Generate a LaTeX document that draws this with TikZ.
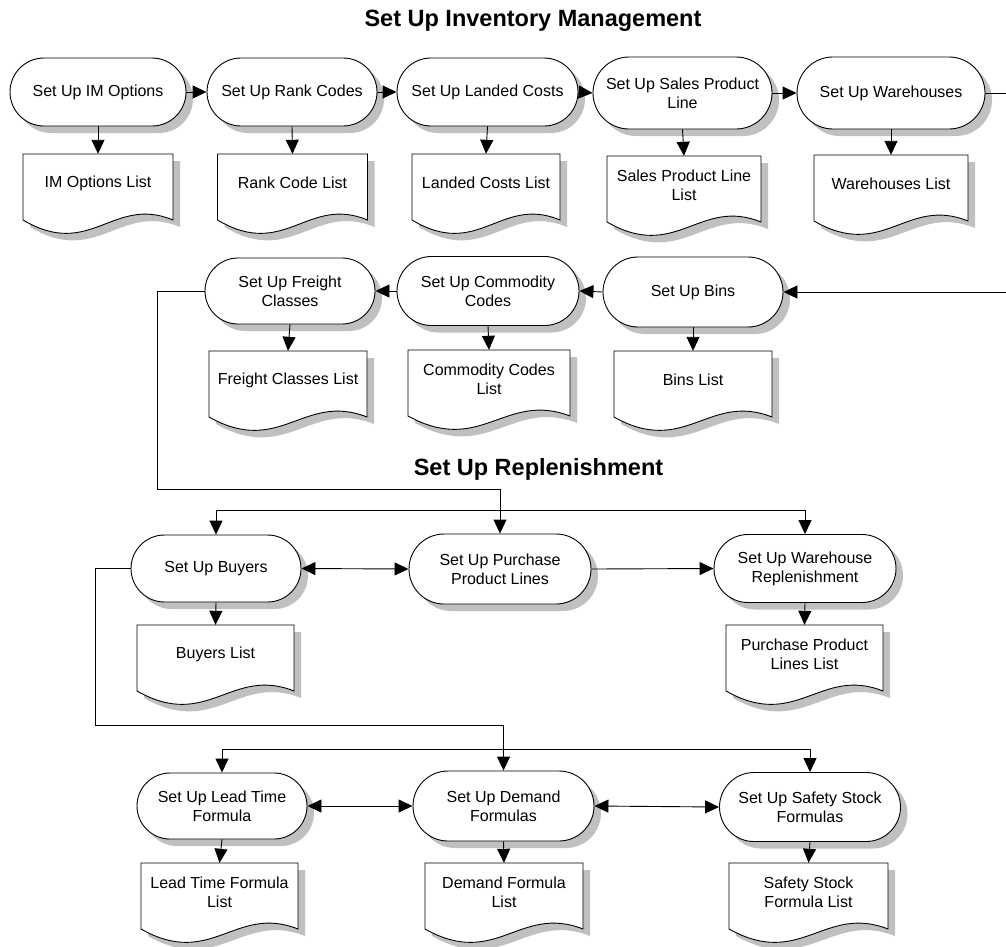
\documentclass[tikz,border=0pt]{standalone}
\usepackage{fontspec}
\setmainfont{Liberation Sans}
\usetikzlibrary{shapes.misc,shadows,arrows.meta}
\definecolor{shadowgray}{RGB}{192,192,192}
\newcommand\lblfont{\fontsize{16}{19}\selectfont}
\newcommand\ttlfont{\bfseries\fontsize{23.5}{28}\selectfont}
% doc shape: name, center x, top y, width, text
\newcommand\docbox[5]{%
  \begin{scope}[shift={({#2-#4/2},#3)}]
    \fill[shadowgray,shift={(7,7)}] (0,0) -- (#4,0) -- (#4,66) .. controls ({0.6*#4},41) and ({0.45*#4},106) .. (0,66) -- cycle;
    \draw[line width=0.9pt,fill=white] (0,0) -- (#4,0) -- (#4,66) .. controls ({0.6*#4},41) and ({0.45*#4},106) .. (0,66) -- cycle;
  \end{scope}
  \node[doctext,minimum width=#4pt] (#1) at (#2,{#3+29}) {#5};
}
\begin{document}
\begin{tikzpicture}[x=1pt,y=-1pt,
  term/.style={rounded rectangle,draw,line width=0.9pt,fill=white,minimum height=68pt,
    inner sep=0pt,align=center,font=\lblfont,
    drop shadow={shadow xshift=7pt,shadow yshift=-7pt,fill=shadowgray,opacity=1}},
  doctext/.style={inner sep=0pt,minimum height=58pt,align=center,font=\lblfont},
  conn/.style={line width=0.9pt,-{Triangle[length=14pt,width=13pt]}},
  conntwo/.style={line width=0.9pt,{Triangle[length=14pt,width=13pt]}-{Triangle[length=14pt,width=13pt]}}]
\useasboundingbox (0,0) rectangle (1006,946);
\clip (0,0) rectangle (1006,946);

% titles
\node[font=\ttlfont,anchor=base] (title1) at (533,26.5) {Set Up Inventory Management};
\node[font=\ttlfont,anchor=base] (title2) at (538.5,475) {Set Up Replenishment};

% row 1
\node[term,minimum width=176pt] (t1) at (98,92) {Set Up IM Options};
\node[term,minimum width=170pt] (t2) at (292,92) {Set Up Rank Codes};
\node[term,minimum width=181pt] (t3) at (487.5,92) {Set Up Landed Costs};
\node[term,minimum width=179pt,minimum height=72pt] (t4) at (682.5,93) {Set Up Sales Product\\Line};
\node[term,minimum width=188pt,minimum height=72pt] (t5) at (891,93) {Set Up Warehouses};

% row 2
\node[term,minimum width=170pt,minimum height=66pt] (t6) at (290,291) {Set Up Freight\\Classes};
\node[term,minimum width=182pt,minimum height=69pt] (t7) at (488,291) {Set Up Commodity\\Codes};
\node[term,minimum width=180pt,minimum height=70pt] (t8) at (693,292) {Set Up Bins};

% row 3
\node[term,minimum width=170pt,minimum height=67pt] (t9) at (216,568.5) {Set Up Buyers};
\node[term,minimum width=182pt,minimum height=70pt] (t10) at (500,569) {Set Up Purchase\\Product Lines};
\node[term,minimum width=182pt,minimum height=68pt] (t11) at (805,568.5) {Set Up Warehouse\\Replenishment};

% row 4
\node[term,minimum width=170pt,minimum height=66pt] (t12) at (222,806) {Set Up Lead Time\\Formula};
\node[term,minimum width=181pt,minimum height=70pt] (t13) at (503.5,806) {Set Up Demand\\Formulas};
\node[term,minimum width=181pt,minimum height=69pt] (t14) at (810,807) {Set Up Safety Stock\\Formulas};

% documents
\docbox{d1}{98}{154}{150}{IM Options List}
\docbox{d2}{292.5}{154}{150}{Rank Code List}
\docbox{d3}{486}{154}{148}{Landed Costs List}
\docbox{d4}{684}{156}{154}{Sales Product Line\\List}
\docbox{d5}{891}{155}{154}{Warehouses List}
\docbox{d6}{288}{351}{158}{Freight Classes List}
\docbox{d7}{489}{350}{162}{Commodity Codes\\List}
\docbox{d8}{693}{351}{158}{Bins List}
\docbox{d9}{215.5}{625}{157}{Buyers List}
\docbox{d10}{804.5}{625}{157}{Purchase Product\\Lines List}
\docbox{d11}{219.5}{863}{157}{Lead Time Formula\\List}
\docbox{d12}{504}{863}{158}{Demand Formula\\List}
\docbox{d13}{808.5}{863}{159}{Safety Stock\\Formula List}

% helper coordinates
\coordinate (eA) at (1015,93);
\coordinate (eB) at (1015,292);
\coordinate (fA) at (157,489);
\coordinate (bA) at (216,510);
\coordinate (gA) at (95,725);
\coordinate (bB) at (222,749);

% row 1 connectors
\draw[conn] (t1.east) -- (t2.west);
\draw[conn] (t2.east) -- (t3.west);
\draw[conn] (t3.east) -- (t4.west);
\draw[conn] (t4.east) -- (t5.west);
\draw[conn] (t5.east) -- (eA) -- (eB) -- (t8.east);
\draw[conn] (t1.south) -- (d1.north);
\draw[conn] (t2.south) -- (d2.north);
\draw[conn] (t3.south) -- (d3.north);
\draw[conn] (t4.south) -- (d4.north);
\draw[conn] (t5.south) -- (d5.north);

% row 2 connectors
\draw[conn] (t8.west) -- (t7.east);
\draw[conn] (t7.west) -- (t6.east);
\draw[conn] (t6.south) -- (d6.north);
\draw[conn] (t7.south) -- (d7.north);
\draw[conn] (t8.south) -- (d8.north);
\draw[conn] (t6.west) -| (fA) -| (t10.north);

% row 3 connectors
\draw[conntwo] (t9.north) -- (t9.north |- bA) -| (t11.north);
\draw[conntwo] (t9.east) -- (t10.west);
\draw[conn] (t10.east) -- (t11.west);
\draw[conn] (t9.south) -- (d9.north);
\draw[conn] (t11.south) -- (d10.north);
\draw[conn] (t9.west) -| (gA) -| (t13.north);

% row 4 connectors
\draw[conntwo] (t12.north) -- (t12.north |- bB) -| (t14.north);
\draw[conntwo] (t12.east) -- (t13.west);
\draw[conntwo] (t13.east) -- (t14.west);
\draw[conn] (t12.south) -- (d11.north);
\draw[conn] (t13.south) -- (d12.north);
\draw[conn] (t14.south) -- (d13.north);
\end{tikzpicture}
\end{document}
